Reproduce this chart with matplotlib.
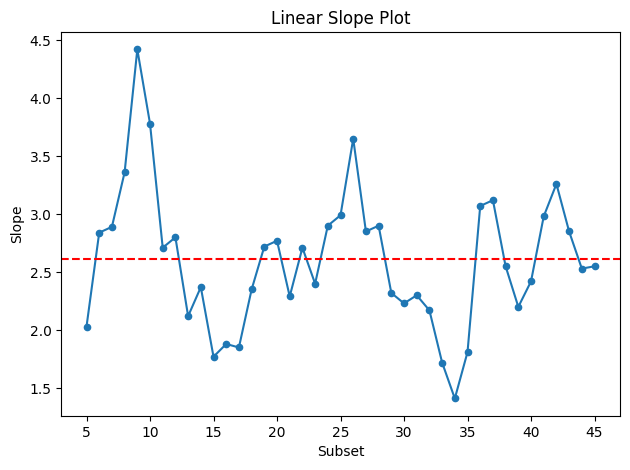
import numpy as np
import matplotlib
matplotlib.use("Agg")
import matplotlib.pyplot as plt

subsets = list(range(5, 46))
slopes = [2.03, 2.84, 2.89, 3.36, 4.42, 3.78, 2.71, 2.80, 2.12, 2.37,
          1.77, 1.88, 1.85, 2.35, 2.72, 2.77, 2.29, 2.71, 2.40, 2.90,
          2.99, 3.65, 2.85, 2.90, 2.32, 2.23, 2.30, 2.17, 1.72, 1.41,
          1.81, 3.07, 3.12, 2.55, 2.20, 2.42, 2.98, 3.26, 2.85, 2.53,
          2.55]
mean_slope = 2.61

fig, ax = plt.subplots(figsize=(6.3, 4.7), dpi=100)
ax.plot(subsets, slopes, marker="o", markersize=4.5, color="#1f77b4")
ax.axhline(mean_slope, color="red", linestyle="--")
ax.set_xlabel("Subset")
ax.set_ylabel("Slope")
ax.set_title("Linear Slope Plot")
ax.set_xticks(range(5, 46, 5))

fig.subplots_adjust(left=0.097, right=0.984, top=0.932, bottom=0.115)
fig.savefig("out.png")
